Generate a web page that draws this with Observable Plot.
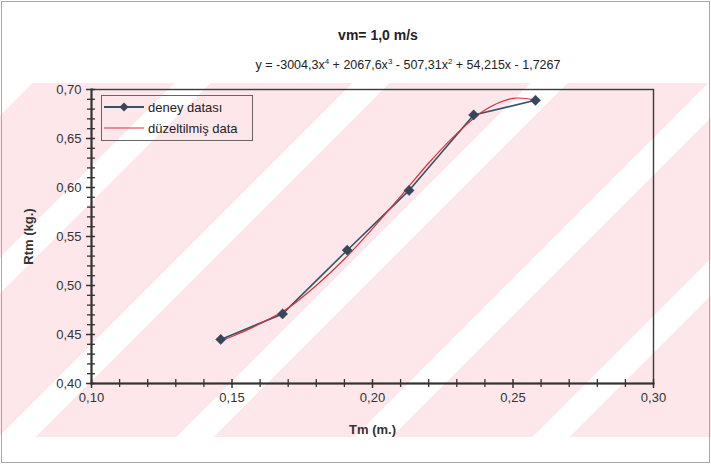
<!DOCTYPE html>
<html><head><meta charset="utf-8">
<script src="https://cdn.jsdelivr.net/npm/d3@7"></script>
<script src="https://cdn.jsdelivr.net/npm/@observablehq/plot@0.6"></script>
<style>
body{margin:0;background:#fff;font-family:"Liberation Sans",Arial,sans-serif;}
#wrap{position:relative;width:711px;height:464px;overflow:hidden;}
#wm{position:absolute;left:0;top:83px;width:711px;height:354px;
 background:repeating-linear-gradient(-45deg,#fde7ea 0px,#fde7ea 100px,#ffffff 100px,#ffffff 126px);}
#border{position:absolute;left:1px;top:1px;width:707px;height:460px;border:1px solid #a8a8a8;pointer-events:none;}
#chart{position:absolute;left:0;top:0;}
#chart svg{background:transparent!important;}
.t{position:absolute;color:#222;white-space:nowrap;transform:translateX(-50%);}
#title{left:378px;top:27px;font-weight:bold;font-size:14px;}
#eq{left:408px;top:58px;font-size:12.5px;}
#eq sup{font-size:8px;vertical-align:5px;line-height:0;}
#legend{position:absolute;left:101px;top:95px;width:150px;height:44px;border:1px solid #666;font-size:13px;color:#222;}
#legend .row{position:absolute;left:2px;height:20px;display:flex;align-items:center;}
#legend svg{margin-right:4px;}
[aria-label="x-axis label"] text,[aria-label="y-axis label"] text{font-weight:bold;}
</style></head>
<body>
<div id="wrap">
 <div id="wm"></div>
 <div id="chart"></div>
 <div id="title" class="t">vm= 1,0 m/s</div>
 <div id="eq" class="t">y = -3004,3x<sup>4</sup> + 2067,6x<sup>3</sup> - 507,31x<sup>2</sup> + 54,215x - 1,7267</div>
 <div id="legend"></div>
 <div id="border"></div>
</div>
<script>
// measured data (deney datası)
const tmData = [0.146, 0.168, 0.191, 0.213, 0.236, 0.258];
const rtmData = [0.445, 0.471, 0.536, 0.597, 0.674, 0.689];
// fitted curve (düzeltilmiş data)
const tmFit = [0.146, 0.15, 0.16, 0.17, 0.18, 0.19, 0.20, 0.21, 0.22, 0.23, 0.24, 0.25, 0.258];
const rtmFit = [0.444, 0.448, 0.461, 0.477, 0.500, 0.527, 0.558, 0.591, 0.625, 0.655, 0.679, 0.691, 0.689];
const xTicks = [0.10, 0.15, 0.20, 0.25, 0.30];
const yTicks = [0.40, 0.45, 0.50, 0.55, 0.60, 0.65, 0.70];
const xMinor = [0.11,0.12,0.13,0.14,0.16,0.17,0.18,0.19,0.21,0.22,0.23,0.24,0.26,0.27,0.28,0.29];
const yMinor = [0.41,0.42,0.43,0.44,0.46,0.47,0.48,0.49,0.51,0.52,0.53,0.54,0.56,0.57,0.58,0.59,0.61,0.62,0.63,0.64,0.66,0.67,0.68,0.69];
const seriesNames = ["deney datası", "düzeltilmiş data"];
const dataColor = "#2f5566", markColor = "#37465a", fitColor = "#d8323c";

const meas = tmData.map((x,i)=>({x, y: rtmData[i]}));
const fit = tmFit.map((x,i)=>({x, y: rtmFit[i]}));
const fmt = d => d.toFixed(2).replace(".", ",");

const plot = Plot.plot({
  width: 711, height: 464,
  marginLeft: 91, marginRight: 58, marginTop: 89, marginBottom: 81,
  style: {fontFamily: '"Liberation Sans", Arial, sans-serif', fontSize: "13px", color: "#333", background: "transparent"},
  x: {domain: [xTicks[0], xTicks[xTicks.length - 1]]},
  y: {domain: [yTicks[0], yTicks[yTicks.length - 1]]},
  marks: [
    Plot.frame({stroke: "#3a3a3a", strokeWidth: 1.4}),
    Plot.axisX({ticks: xMinor, tickSize: 8, dy: -4, tickFormat: () => "", label: null, stroke: "#333", strokeWidth: 1.3}),
    Plot.axisY({ticks: yMinor, tickSize: 8, dx: 4, tickFormat: () => "", label: null, stroke: "#333", strokeWidth: 1.3}),
    Plot.axisX({ticks: xTicks, tickSize: 9, dy: -4, tickPadding: 4, tickFormat: fmt, label: "Tm (m.)", labelAnchor: "center", labelArrow: "none", labelOffset: 50, stroke: "#333", fill: "#333", strokeWidth: 1.5}),
    Plot.axisY({ticks: yTicks, tickSize: 9, dx: 4, tickPadding: 5, tickFormat: fmt, label: "Rtm (kg.)", labelAnchor: "center", labelArrow: "none", labelOffset: 68, stroke: "#333", fill: "#333", strokeWidth: 1.5}),
    Plot.frame({anchor: "bottom", stroke: "#333", strokeWidth: 2}),
    Plot.frame({anchor: "left", stroke: "#333", strokeWidth: 2}),
    Plot.line(meas, {x: "x", y: "y", stroke: dataColor, strokeWidth: 1.6}),
    Plot.line(fit, {x: "x", y: "y", stroke: fitColor, strokeWidth: 1.2, curve: "catmull-rom"}),
    Plot.dot(meas, {x: "x", y: "y", symbol: "diamond2", r: 4.6, fill: markColor, stroke: markColor, strokeWidth: 0.5})
  ]
});
document.getElementById("chart").appendChild(plot);

const lg = document.getElementById("legend");
seriesNames.forEach((name, i) => {
  const row = document.createElement("div");
  row.className = "row";
  row.style.top = (i === 0 ? 1 : 22) + "px";
  const sw = i === 0
    ? `<svg width="40" height="12"><line x1="0" y1="6" x2="40" y2="6" stroke="${dataColor}" stroke-width="1.8"/><path d="M20,1.5 L24.5,6 L20,10.5 L15.5,6Z" fill="${markColor}"/></svg>`
    : `<svg width="40" height="12"><line x1="0" y1="6" x2="40" y2="6" stroke="${fitColor}" stroke-width="1.2"/></svg>`;
  row.innerHTML = sw + `<span>${name}</span>`;
  lg.appendChild(row);
});
</script>
</body></html>
